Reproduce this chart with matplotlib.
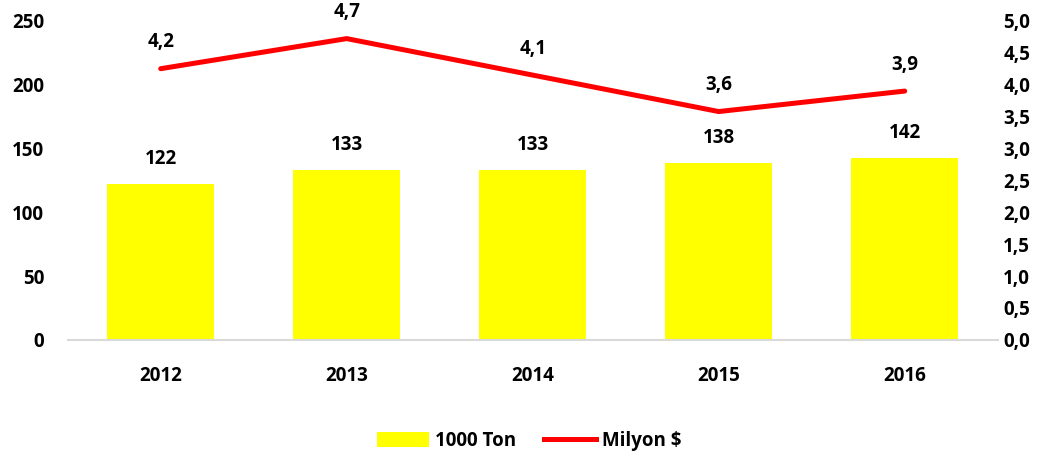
import matplotlib
matplotlib.use("Agg")
import matplotlib.pyplot as plt
from matplotlib.patches import Patch
from matplotlib.lines import Line2D

years = ["2012", "2013", "2014", "2015", "2016"]
tons = [122, 133, 133, 138, 142]
usd = [4.24, 4.71, 4.14, 3.57, 3.89]
usd_labels = ["4,2", "4,7", "4,1", "3,6", "3,9"]

plt.rcParams['font.family'] = ['Open Sans', 'DejaVu Sans']
plt.rcParams['font.weight'] = 'bold'
FS = 13.5

fig = plt.figure(figsize=(10.58, 4.61), dpi=100)
ax = fig.add_axes([0.064, 0.2625, 0.879, 0.694])
x = list(range(len(years)))
ax.bar(x, tons, width=0.575, color='#FFFF00', zorder=2)
ax.set_xlim(-0.5, len(years) - 0.5)
ax.set_ylim(0, 250)
ax.set_yticks([0, 50, 100, 150, 200, 250])
ax.set_xticks(x)
ax.set_xticklabels(years, fontweight='bold')
ax.set_yticklabels([str(t) for t in [0, 50, 100, 150, 200, 250]], fontweight='bold')
for s in ['top', 'right', 'left']:
    ax.spines[s].set_visible(False)
ax.spines['bottom'].set_color('#D9D9D9')
ax.spines['bottom'].set_linewidth(1.5)
ax.tick_params(axis='both', length=0, labelsize=FS)
ax.tick_params(axis='x', pad=19)
ax.tick_params(axis='y', pad=17)
for xi, v in zip(x, tons):
    ax.annotate(str(v), (xi, v), xytext=(0, 18), textcoords='offset points',
                ha='center', va='center', fontsize=FS, fontweight='bold')

ax2 = ax.twinx()
ax2.plot(x, usd, color='#FF0000', lw=3.6, solid_capstyle='round', zorder=3)
ax2.set_ylim(0, 5)
rt = [0, 0.5, 1, 1.5, 2, 2.5, 3, 3.5, 4, 4.5, 5]
ax2.set_yticks(rt)
ax2.set_yticklabels([f"{t:.1f}".replace('.', ',') for t in rt], fontweight='bold')
for s in ['top', 'right', 'left', 'bottom']:
    ax2.spines[s].set_visible(False)
ax2.tick_params(axis='y', length=0, labelsize=FS, pad=4)
for xi, v, lab in zip(x, usd, usd_labels):
    ax2.annotate(lab, (xi, v), xytext=(0, 19), textcoords='offset points',
                 ha='center', va='center', fontsize=FS, fontweight='bold')

handles = [Patch(facecolor='#FFFF00', label='1000 Ton'),
           Line2D([0], [0], color='#FF0000', lw=3.6, label='Milyon $')]
fig.legend(handles=handles, loc='center', bbox_to_anchor=(0.5, 0.043), ncol=2,
           frameon=False, prop={'size': FS, 'weight': 'bold'}, handlelength=2.8,
           handleheight=0.8, handletextpad=0.3, columnspacing=1.5)

fig.savefig("out.png", dpi=100)
